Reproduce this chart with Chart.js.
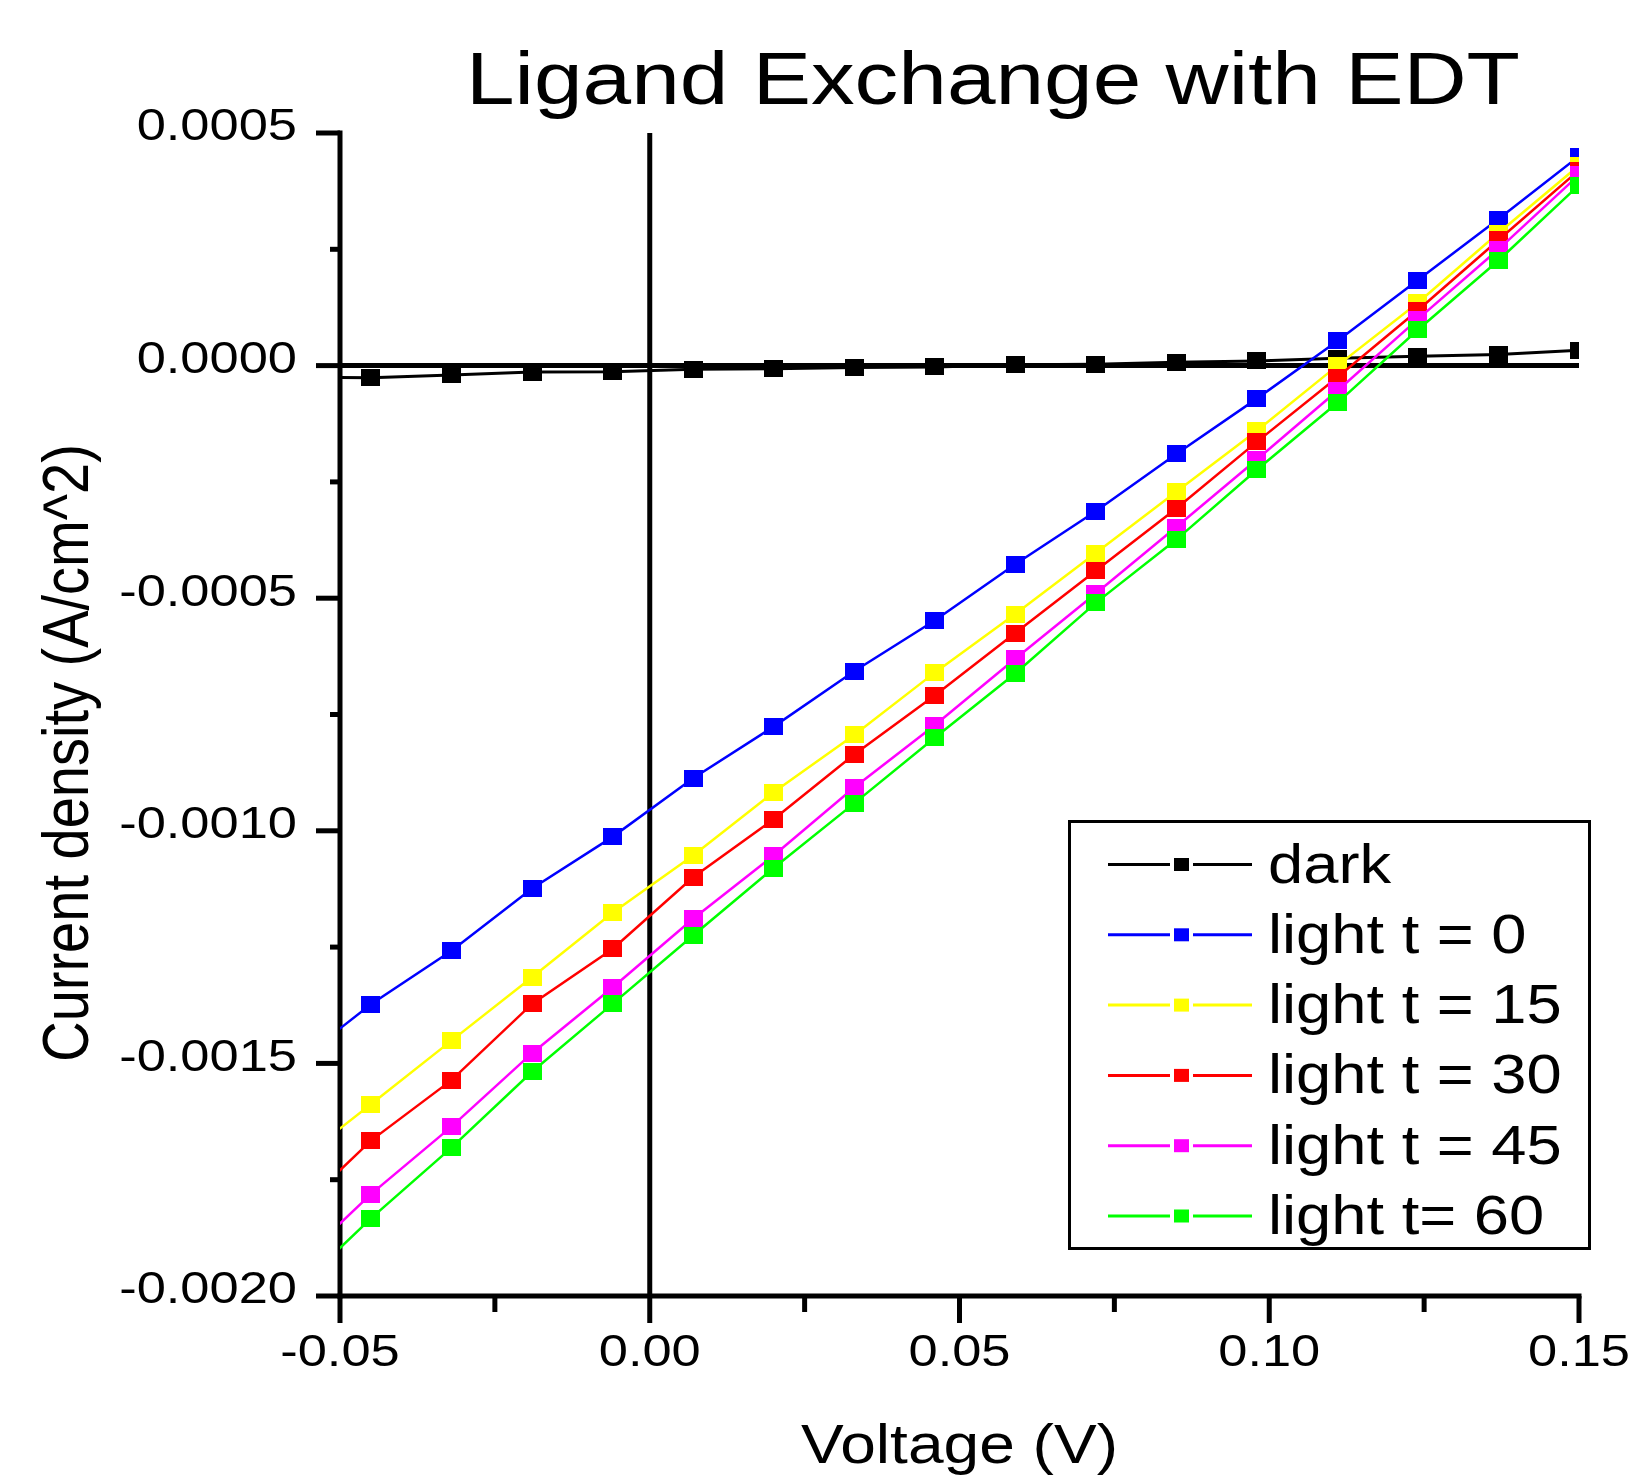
<!DOCTYPE html>
<html><head><meta charset="utf-8">
<script src="https://cdn.jsdelivr.net/npm/chart.js@4/dist/chart.umd.min.js"></script>
<style>html,body{margin:0;padding:0;background:#fff;} canvas{display:block;}</style>
</head><body>
<canvas id="c" width="1629" height="1480" style="width:1629px;height:1480px"></canvas>
<script>
// ---- data (voltage in V, current density in A/cm^2) ----
const voltage = [-0.058, -0.045, -0.032, -0.019, -0.006, 0.007, 0.020, 0.033, 0.046, 0.059, 0.072, 0.085, 0.098, 0.111, 0.124, 0.137, 0.150];
const darkJ   = [-0.000025, -0.000026, -0.000020, -0.000014, -0.000013, -0.000008, -0.000007, -0.000004, -0.000003, 0.000002, 0.000003, 0.000007, 0.000010, 0.000016, 0.000020, 0.000024, 0.000033];
const light0  = [-0.001508, -0.001373, -0.001258, -0.001124, -0.001013, -0.000887, -0.000776, -0.000657, -0.000548, -0.000427, -0.000313, -0.000190, -0.000071, 0.000053, 0.000184, 0.000315, 0.000450];
const light15 = [-0.001723, -0.001588, -0.001451, -0.001315, -0.001176, -0.001053, -0.000917, -0.000794, -0.000660, -0.000534, -0.000403, -0.000271, -0.000140, 0.000000, 0.000135, 0.000285, 0.000430];
const light30 = [-0.001832, -0.001666, -0.001536, -0.001372, -0.001254, -0.001100, -0.000975, -0.000836, -0.000709, -0.000575, -0.000441, -0.000307, -0.000164, -0.000025, 0.000119, 0.000270, 0.000420];
const light45 = [-0.001945, -0.001781, -0.001636, -0.001478, -0.001337, -0.001189, -0.001053, -0.000907, -0.000773, -0.000630, -0.000490, -0.000347, -0.000202, -0.000054, 0.000100, 0.000250, 0.000410];
const light60 = [-0.001999, -0.001833, -0.001681, -0.001518, -0.001372, -0.001225, -0.001080, -0.000941, -0.000800, -0.000662, -0.000510, -0.000374, -0.000224, -0.000080, 0.000077, 0.000226, 0.000388];

const seriesNames  = ['dark', 'light t = 0', 'light t = 15', 'light t = 30', 'light t = 45', 'light t= 60'];
const seriesValues = [darkJ, light0, light15, light30, light45, light60];
const seriesColors = ['#000000', '#0000ff', '#ffff00', '#ff0000', '#ff00ff', '#00ff00'];

const xTickValues = [-0.05, 0, 0.05, 0.10, 0.15];
const xTickLabels = ['-0.05', '0.00', '0.05', '0.10', '0.15'];
const yTickValues = [0.0005, 0, -0.0005, -0.0010, -0.0015, -0.0020];
const yTickLabels = ['0.0005', '0.0000', '-0.0005', '-0.0010', '-0.0015', '-0.0020'];

const titleText = 'Ligand Exchange with EDT';
const xTitleText = 'Voltage (V)';
const yTitleText = 'Current density (A/cm^2)';

// ---- rendering helpers ----
let SX = 1.165; // horizontal text stretch of the original
const FONT = '"Liberation Sans", Arial, sans-serif';
const canvas = document.getElementById('c');
const ctx = canvas.getContext('2d');
const rawFill = ctx.fillText.bind(ctx);
ctx.fillText = function (t, x, y) {
  this.save(); this.translate(x, y); this.scale(SX, 1); rawFill(t, 0, 0); this.restore();
};

function makeMarker(color, w, h) {
  const c = document.createElement('canvas');
  c.width = w; c.height = h;
  const g = c.getContext('2d');
  g.fillStyle = color; g.fillRect(0, 0, w, h);
  return c;
}

Chart.defaults.font.family = FONT;
Chart.defaults.color = '#000';

const datasets = seriesValues.map((vals, i) => ({
  label: seriesNames[i],
  data: voltage.map((v, k) => ({ x: v, y: vals[k] })),
  borderColor: seriesColors[i],
  backgroundColor: seriesColors[i],
  borderWidth: i === 0 ? 3 : 2.5,
  pointStyle: makeMarker(seriesColors[i], 19, 17),
  pointRadius: 9,
  tension: 0,
  clip: 0,
  order: 6 - i
}));

function seg(x1, y1, x2, y2) { ctx.beginPath(); ctx.moveTo(x1, y1); ctx.lineTo(x2, y2); ctx.stroke(); }

const axesPlugin = {
  id: 'axesPlugin',
  beforeDatasetsDraw(chart) {
    const c = chart.ctx, a = chart.chartArea, xs = chart.scales.x, ys = chart.scales.y;
    c.save();
    c.strokeStyle = '#000'; c.lineWidth = 5; c.lineCap = 'butt';
    seg(a.left, a.top - 2.5, a.left, a.bottom + 2.5);
    seg(a.left - 2.5, a.bottom, a.right + 2.5, a.bottom);
    const y0 = ys.getPixelForValue(0), x0 = xs.getPixelForValue(0);
    seg(a.left, y0, a.right, y0);
    seg(x0, a.top, x0, a.bottom);
    for (let i = 0; i < yTickValues.length; i++) {
      const p = ys.getPixelForValue(yTickValues[i]);
      seg(a.left - 24, p, a.left, p);
      if (i < yTickValues.length - 1) {
        const m = ys.getPixelForValue((yTickValues[i] + yTickValues[i + 1]) / 2);
        seg(a.left - 10, m, a.left, m);
      }
    }
    for (let i = 0; i < xTickValues.length; i++) {
      const p = xs.getPixelForValue(xTickValues[i]);
      seg(p, a.bottom, p, a.bottom + 27);
      if (i < xTickValues.length - 1) {
        const m = xs.getPixelForValue((xTickValues[i] + xTickValues[i + 1]) / 2);
        seg(m, a.bottom, m, a.bottom + 16);
      }
    }
    c.restore();
  },
  afterDraw(chart) {
    const c = chart.ctx, a = chart.chartArea;
    c.save();
    c.fillStyle = '#000';
    c.textBaseline = 'alphabetic';
    // title
    c.font = '75px ' + FONT; c.textAlign = 'left';
    c.fillText(titleText, 466, 104);
    // x title
    c.font = '55px ' + FONT; c.textAlign = 'center';
    c.fillText(xTitleText, (a.left + a.right) / 2, 1463);
    // y title (rotated)
    c.save();
    c.translate(88, 753); c.scale(1.165, 1); c.rotate(-Math.PI / 2);
    c.font = '56px ' + FONT; c.textAlign = 'center';
    rawFill(yTitleText, 0, 0);
    c.restore();
    // legend
    c.fillStyle = '#fff'; c.fillRect(1069.5, 821.5, 520, 427);
    c.strokeStyle = '#000'; c.lineWidth = 3; c.strokeRect(1069.5, 821.5, 520, 427);
    c.font = '56px ' + FONT; c.textAlign = 'left';
    const saved = SX; SX = 1.13;
    for (let i = 0; i < seriesNames.length; i++) {
      const ry = 864.5 + i * 70.3;
      c.strokeStyle = seriesColors[i]; c.lineWidth = 3;
      seg(1108, ry, 1170, ry);
      seg(1193, ry, 1252, ry);
      c.fillStyle = seriesColors[i];
      c.fillRect(1174, ry - 6.5, 15, 13);
      c.fillStyle = '#000';
      c.fillText(seriesNames[i], 1268, ry + 18);
    }
    SX = saved;
    c.restore();
  }
};

new Chart(canvas, {
  type: 'line',
  data: { datasets },
  plugins: [axesPlugin],
  options: {
    responsive: false,
    animation: false,
    devicePixelRatio: 1,
    layout: { padding: { top: 133, right: 50, bottom: 0, left: 0 } },
    plugins: { legend: { display: false }, title: { display: false }, tooltip: { enabled: false } },
    scales: {
      x: {
        type: 'linear', min: -0.05, max: 0.15,
        afterBuildTicks: s => { s.ticks = xTickValues.map(v => ({ value: v })); },
        afterFit: s => { s.height = 184; s.paddingLeft = 0; s.paddingRight = 0; },
        ticks: { callback: (v, i) => xTickLabels[i], font: { size: 45 }, color: '#000', padding: 31, maxRotation: 0, minRotation: 0, autoSkip: false },
        grid: { display: false, drawTicks: false },
        border: { display: false }
      },
      y: {
        type: 'linear', min: -0.002, max: 0.0005,
        afterBuildTicks: s => { s.ticks = yTickValues.map(v => ({ value: v })); },
        afterFit: s => { s.width = 340; s.paddingTop = 0; s.paddingBottom = 0; },
        ticks: { callback: (v, i) => yTickLabels[i], font: { size: 45 }, color: '#000', padding: 43, labelOffset: -5, autoSkip: false },
        grid: { display: false, drawTicks: false },
        border: { display: false }
      }
    }
  }
});
</script>
</body></html>
